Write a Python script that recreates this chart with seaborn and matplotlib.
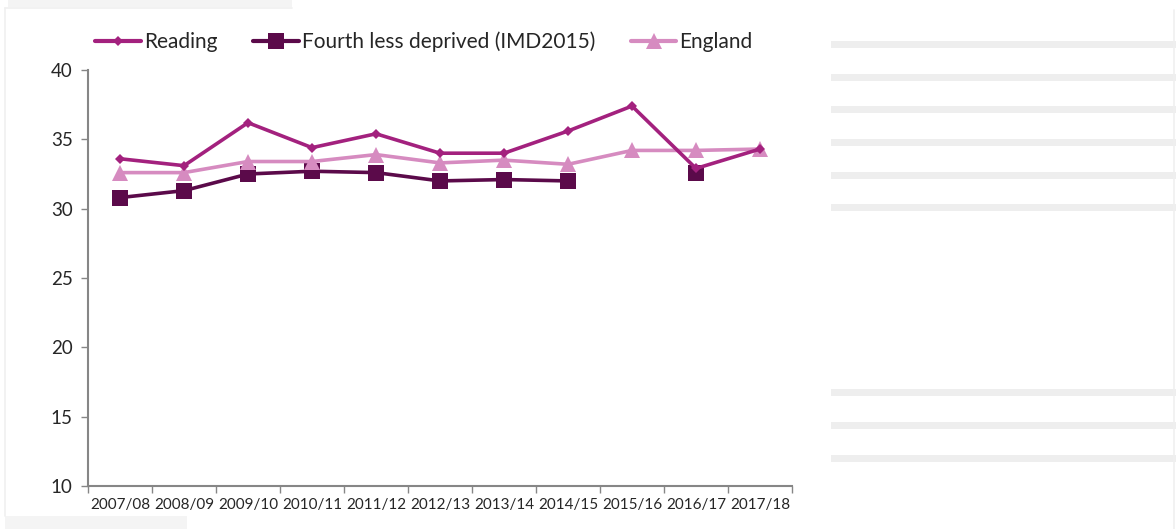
import matplotlib
matplotlib.use("Agg")
import matplotlib.pyplot as plt
from matplotlib.patches import Rectangle
from matplotlib.lines import Line2D
import numpy as np
import pandas as pd
import seaborn as sns

years = ["2007/08", "2008/09", "2009/10", "2010/11", "2011/12", "2012/13",
         "2013/14", "2014/15", "2015/16", "2016/17", "2017/18"]
reading = [33.6, 33.1, 36.2, 34.4, 35.4, 34.0, 34.0, 35.6, 37.4, 32.9, 34.3]
fourth = [30.8, 31.3, 32.5, 32.7, 32.6, 32.0, 32.1, 32.0, np.nan, 32.6, np.nan]
england = [32.6, 32.6, 33.4, 33.4, 33.9, 33.3, 33.5, 33.2, 34.2, 34.2, 34.3]
series_names = ["Reading", "Fourth less deprived (IMD2015)", "England"]
yticks = [10, 15, 20, 25, 30, 35, 40]

c_read = "#A3217E"
c_four = "#5B0A4A"
c_eng = "#D68BC0"

sns.set_style("white")
plt.rcParams["font.family"] = ["Lato", "DejaVu Sans"]

W, H = 1176, 529
fig = plt.figure(figsize=(W / 100, H / 100), dpi=100)

def px_rect(x0, y0, x1, y1, **kw):
    fig.patches.append(Rectangle((x0 / W, 1 - y1 / H), (x1 - x0) / W, (y1 - y0) / H,
                                 transform=fig.transFigure, figure=fig, **kw))

# screenshot artefacts: light gray bands
for yb in [41, 74, 106, 139, 172, 204, 389, 422, 455]:
    px_rect(831, yb, 1176, yb + 7, facecolor="#EEEEEE", edgecolor="none")
px_rect(8, 0, 292, 7, facecolor="#F4F4F4", edgecolor="none")
px_rect(5, 516, 187, 529, facecolor="#F4F4F4", edgecolor="none")
fig.lines.append(Line2D([5 / W, 5 / W], [1 - 8 / H, 1 - 516 / H], transform=fig.transFigure,
                        color="#F0F0F0", lw=1.2))
fig.lines.append(Line2D([5 / W, 292 / W], [1 - 8 / H, 1 - 8 / H], transform=fig.transFigure,
                        color="#F0F0F0", lw=1.2))
fig.lines.append(Line2D([1174 / W, 1174 / W], [1 - 10 / H, 1 - 529 / H], transform=fig.transFigure,
                        color="#F0F0F0", lw=1.2))

ax = fig.add_axes([88 / W, 1 - 486 / H, (792 - 88) / W, (486 - 70) / H])
ax.set_facecolor("none")

pos = np.arange(len(years))
df = pd.DataFrame({"pos": pos, "Reading": reading, "Fourth": fourth, "England": england})

# Fourth less deprived: contiguous segments
seg = np.cumsum(np.isnan(np.array(fourth, dtype=float)))
df["seg"] = seg
df4 = df.dropna(subset=["Fourth"])

sns.lineplot(data=df4, x="pos", y="Fourth", units="seg", estimator=None, ax=ax,
             color=c_four, lw=2.6, marker="s", markersize=12, markeredgewidth=0, zorder=3)
sns.lineplot(data=df, x="pos", y="England", ax=ax, color=c_eng, lw=2.6, marker="^",
             markersize=11, markeredgewidth=0, zorder=4)
sns.lineplot(data=df, x="pos", y="Reading", ax=ax, color=c_read, lw=2.6, marker="D",
             markersize=5.5, markeredgewidth=0, zorder=5)

ax.set_xlim(-0.5, len(years) - 0.5)
ax.set_ylim(10, 40)
ax.set_yticks(yticks)
ax.set_yticklabels([str(v) for v in yticks], fontsize=13.5)
ax.set_xticks(pos)
ax.set_xticklabels(years, fontsize=11)
ax.set_xticks(np.arange(-0.5, len(years)), minor=True)
ax.tick_params(axis="x", which="major", length=0, pad=9)
ax.tick_params(axis="x", which="minor", length=5, color="#868686", width=1, direction="out", bottom=True)
ax.tick_params(axis="y", length=5, color="#868686", width=1, direction="out", left=True, pad=6)
ax.set_xlabel("")
ax.set_ylabel("")
for s in ["top", "right"]:
    ax.spines[s].set_visible(False)
for s in ["left", "bottom"]:
    ax.spines[s].set_color("#868686")
    ax.spines[s].set_linewidth(1.5)

handles = [
    Line2D([], [], color=c_read, lw=3, marker="D", markersize=5.5, markeredgewidth=0),
    Line2D([], [], color=c_four, lw=3, marker="s", markersize=12, markeredgewidth=0),
    Line2D([], [], color=c_eng, lw=3, marker="^", markersize=11, markeredgewidth=0),
]
fig.legend(handles, series_names, loc="center left", bbox_to_anchor=(95 / W, 1 - 42 / H),
           ncol=3, frameon=False, fontsize=15, handlelength=2.2, handletextpad=0.15,
           columnspacing=1.7, borderaxespad=0, borderpad=0)

fig.savefig("out.png", dpi=100)
